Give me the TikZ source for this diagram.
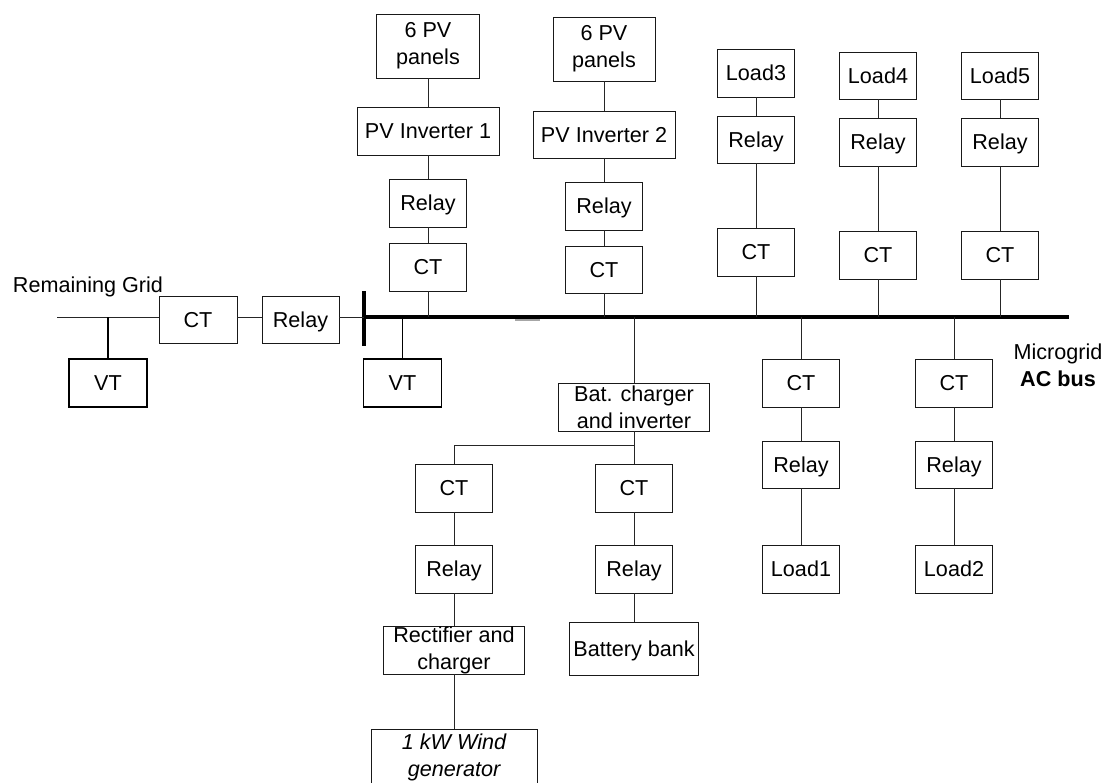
\documentclass[tikz,border=0pt]{standalone}
\usepackage{fontspec}
\setmainfont{Liberation Sans}
\begin{document}
\begin{tikzpicture}[x=1pt,y=-1pt,
  txt/.style={font=\fontsize{21.6}{27}\selectfont},
  box/.style={txt, draw=black!90, line width=0.9pt, minimum width=#1, minimum height=48pt, inner sep=0pt, align=center},
  box/.default=77pt,
  sbox/.style={box=#1, text depth=0pt},
  sbox/.default=77pt,
  vtbox/.style={sbox=78pt, line width=1.8pt, draw=black},
  conn/.style={draw=black!85, line width=0.9pt},
  tconn/.style={draw=black, line width=1.8pt},
  busline/.style={draw=black, line width=3.5pt},
  barline/.style={draw=black, line width=4pt}
]
\path[use as bounding box, clip] (0,0) rectangle (1105,782);

% left part
\node[txt, anchor=center] (gridtxt) at (88,287) {Remaining Grid};
\coordinate (gridL) at (57,317);
\node[sbox=78pt, minimum height=47pt] (ctg) at (198,319.5) {CT};
\node[sbox, minimum height=47pt] (relg) at (300.5,319.5) {Relay};
\coordinate (barT) at (364,291);
\coordinate (barB) at (364,346);
\coordinate (busL) at (364,317);
\coordinate (busR) at (1069,317);
\coordinate (tapg) at (108,317);
\coordinate (tapm) at (402.5,317);
\node[vtbox] (vtg) at (108,383) {VT};
\node[vtbox] (vtm) at (402.5,383) {VT};

% PV 1
\node[box=103pt, minimum height=64pt] (pv1) at (428,46) {6 PV\\panels};
\node[sbox=142pt] (inv1) at (428,131) {PV Inverter 1};
\node[sbox] (rel1) at (428,203) {Relay};
\node[sbox] (ct1) at (428,267) {CT};
% PV 2
\node[box=102pt, minimum height=64pt] (pv2) at (604,49) {6 PV\\panels};
\node[sbox=142pt, minimum height=47pt] (inv2) at (604,134.5) {PV Inverter 2};
\node[sbox] (rel2) at (604,206) {Relay};
\node[sbox, minimum height=47pt] (ct2) at (604,269.5) {CT};

% upper loads
\node[sbox] (ld3) at (756,73) {Load3};
\node[sbox, minimum height=47pt] (rl3) at (756,139.5) {Relay};
\node[sbox] (ct3) at (756,252) {CT};
\node[sbox, minimum height=47pt] (ld4) at (878,75.5) {Load4};
\node[sbox] (rl4) at (878,142) {Relay};
\node[sbox] (ct4) at (878,255) {CT};
\node[sbox, minimum height=47pt] (ld5) at (1000,75.5) {Load5};
\node[sbox] (rl5) at (1000,142) {Relay};
\node[sbox] (ct5) at (1000,255) {CT};

% lower loads
\node[sbox] (ctl1) at (801,383) {CT};
\node[sbox, minimum height=47pt] (rll1) at (801,464.5) {Relay};
\node[sbox] (ld1) at (801,569) {Load1};
\node[sbox] (ctl2) at (954,383) {CT};
\node[sbox, minimum height=47pt] (rll2) at (954,464.5) {Relay};
\node[sbox] (ld2) at (954,569) {Load2};

% battery / wind branch
\node[box=151pt] (bat) at (634,407) {Bat. charger\\and inverter};
\coordinate (jn) at (634,445);
\node[sbox] (ctb) at (634,488) {CT};
\node[sbox] (cta) at (454,488) {CT};
\node[sbox] (relb) at (634,569) {Relay};
\node[sbox] (rela) at (454,569) {Relay};
\node[sbox=129pt, minimum height=53pt] (batt) at (634,648.5) {Battery bank};
\node[box=141pt] (rect) at (454,650) {Rectifier and\\charger};
\node[box=166pt, minimum height=57pt, font=\fontsize{21.6}{27}\selectfont\itshape] (wind) at (454,757.5) {1 kW Wind\\generator};

\node[txt, align=center] (mglab) at (1058,365) {Microgrid\\\textbf{AC bus}};

% grey mark under bus
\coordinate (gm1) at (515,320);
\coordinate (gm2) at (540,320);
\draw[gray!70, line width=2.5pt] (gm1) -- (gm2);

% bus and bar
\draw[busline] (busL) -- (busR);
\draw[barline] (barT) -- (barB);

% connectors left
\draw[conn] (gridL) -- (gridL -| ctg.west);
\draw[conn] (ctg.east |- busL) -- (relg.west |- busL);
\draw[conn] (relg.east |- busL) -- (busL);
\draw[tconn] (tapg) -- (vtg);
\draw[tconn] (tapm) -- (vtm);

% PV connectors
\draw[conn] (pv1) -- (inv1);
\draw[conn] (inv1) -- (rel1);
\draw[conn] (rel1) -- (ct1);
\draw[conn] (ct1) -- (ct1 |- busL);
\draw[conn] (pv2) -- (inv2);
\draw[conn] (inv2) -- (rel2);
\draw[conn] (rel2) -- (ct2);
\draw[conn] (ct2) -- (ct2 |- busL);

% upper loads
\foreach \a/\b/\c in {ld3/rl3/ct3, ld4/rl4/ct4, ld5/rl5/ct5}{
  \draw[conn] (\a) -- (\b);
  \draw[conn] (\b) -- (\c);
  \draw[conn] (\c) -- (\c |- busL);
}
% lower loads
\foreach \a/\b/\c in {ctl1/rll1/ld1, ctl2/rll2/ld2}{
  \draw[conn] (\a |- busL) -- (\a);
  \draw[conn] (\a) -- (\b);
  \draw[conn] (\b) -- (\c);
}

% battery branch
\draw[conn] (bat |- busL) -- (bat);
\draw[conn] (bat) -- (ctb);
\draw[conn] (jn) -| (cta);
\draw[conn] (ctb) -- (relb);
\draw[conn] (relb) -- (batt);
\draw[conn] (cta) -- (rela);
\draw[conn] (rela) -- (rect);
\draw[conn] (rect) -- (wind);
\end{tikzpicture}
\end{document}
